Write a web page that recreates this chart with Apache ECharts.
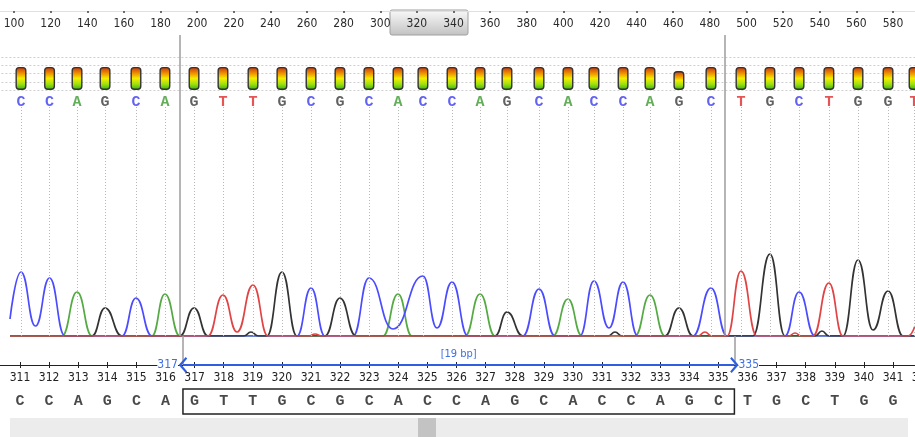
<!DOCTYPE html>
<html>
<head>
<meta charset="utf-8">
<script src="https://cdn.jsdelivr.net/npm/echarts@6/dist/echarts.min.js"></script>
<style>
html, body { margin: 0; padding: 0; background: #fff; }
#chart { width: 915px; height: 437px; }
</style>
</head>
<body>
<div id="chart"></div>
<script>
// base calls over the trace, with their scan positions and quality
const baseCalls = ["C","C","A","G","C","A","G","T","T","G","C","G","C","A","C","C","A","G","C","A","C","C","A","G","C","T","G","C","T","G","G","T"];
const basePos = [103.8, 119.4, 134.4, 149.7, 166.6, 182.4, 198.3, 214.1, 230.5, 246.3, 262.2, 278.0, 293.8, 309.7, 323.3, 339.2,
  354.5, 369.2, 386.7, 402.5, 416.7, 432.6, 447.3, 463.1, 480.6, 497.0, 512.8, 528.7, 545.0, 560.9, 577.3, 591.5];
const baseQual = [28, 28, 28, 28, 28, 28, 28, 28, 28, 28, 28, 28, 28, 28, 28, 28,
  28, 28, 28, 28, 28, 28, 28, 23, 28, 28, 28, 28, 28, 28, 28, 28];

// sequence ruler under the trace
const seqStart = 311;
const seqBases = ["C","C","A","G","C","A","G","T","T","G","C","G","C","A","C","C","A","G","C","A","C","C","A","G","C","T","G","C","T","G","G","T"];

// selection: edges on the ruler (base units) and cursors on the trace (scan units)
const selRange = [316.6, 335.55];
const cursorScan = [190.6, 488.3];

// trace signal per channel: [scan, signal]
const traceA = [[97.8,0],[126.2,0],[134.4,44],[142.6,0],[175.3,0],[182.4,42],[190.6,0],[301.5,0],[309.7,42],[317.3,0],
  [346.3,0],[354.5,42],[362.7,0],[394.3,0],[402.5,37],[410.2,0],[439.1,0],[447.3,41],[455.5,0],[592,0]];
const traceC = [[97.8,17],[103.8,64],[111.7,10],[119.4,58],[127.8,0],[159.0,0],[166.6,38],[175.3,0],[254.5,0],[262.2,48],
  [269.8,0],[285.1,0],[293.8,58],[307.0,7],[323.3,60],[331.0,8],[339.2,54],[347.9,0],[377.9,0],[386.7,47],[395.4,0],
  [409.0,0],[416.7,55],[424.9,8],[432.6,54],[440.7,0],[470.8,0],[480.6,48],[489.4,0],[521.0,0],[528.7,44],[537.4,0],[592,0]];
const traceG = [[97.8,0],[142.6,0],[149.7,28],[158.9,0],[190.6,0],[198.3,28],[205.9,0],[225.5,0],[229.4,4],[233.5,0],
  [238.1,0],[246.3,64],[254.5,0],[269.8,0],[278.0,38],[286.7,0],[362.7,0],[369.2,24],[377.9,0],[424.5,0],[428.2,4],[432.0,0],
  [455.5,0],[463.1,28],[470.8,0],[503.5,0],[512.8,82],[521.0,0],[537.5,0],[541.2,5],[545.0,0],[552.7,0],[560.9,76],
  [569.1,6],[577.3,45],[585.5,0],[592,0]];
const traceT = [[97.8,0],[205.9,0],[214.1,41],[221.8,4],[230.5,51],[238.7,0],[261.0,0],[264.4,2],[268.0,0],[473.5,0],
  [477.3,4],[481.0,0],[489.4,0],[497.0,65],[505.7,0],[523.0,0],[526.5,3],[530.0,0],[536.3,0],[545.0,53],[552.7,0],
  [588.2,0],[592,10]];

const callColor = { A: "#3d9a32", C: "#3b3bf0", G: "#3a3a3a", T: "#e02a2a" };
const traceColor = { A: "#55aa44", C: "#4b4bff", G: "#333333", T: "#e04444" };

const narrow = '"Liberation Sans Narrow", "DejaVu Sans Condensed", sans-serif';
const mono = '"Liberation Mono", "Courier New", monospace';
const chevron = "path://M8 0 L16 7 L14.5 8.5 L8 3 L1.5 8.5 L0 7 Z";

const selFirst = Math.ceil(selRange[0]);
const selLast = Math.floor(selRange[1]);

const scanX = { min: 80, max: 600, interval: 20 };
const baseX = { min: 310, max: 342, interval: 1 };
const hiddenX = (grid, r) => ({ type: "value", gridIndex: grid, show: false, min: r.min, max: r.max });
const hiddenY = (grid, max) => ({ type: "value", gridIndex: grid, show: false, min: 0, max: max });
const scanGrid = (top, height) => ({ left: -22.6, width: 952.2, top: top, height: height, containLabel: false, outerBoundsMode: "none" });
const baseGrid = (top, height) => ({ left: -9.1, width: 931.2, top: top, height: height, containLabel: false, outerBoundsMode: "none" });

function trace(data, color) {
  return {
    type: "line", xAxisIndex: 2, yAxisIndex: 2, data: data,
    smooth: 0.5, smoothMonotone: "x", symbol: "none", silent: true,
    lineStyle: { color: color, width: 1.7 },
  };
}

const chart = echarts.init(document.getElementById("chart"));
chart.setOption({
  animation: false,
  grid: [
    scanGrid(57, 33),   // quality bars + scan ruler
    scanGrid(35, 301),  // cursors
    scanGrid(106, 230), // traces
    baseGrid(336, 29),  // base ruler
    baseGrid(389, 25),  // sequence
  ],
  xAxis: [
    {
      type: "value", gridIndex: 0, position: "top", offset: 46,
      min: scanX.min, max: scanX.max, interval: scanX.interval,
      axisLine: { onZero: false, lineStyle: { color: "#e0e0e0", width: 1 } },
      axisTick: { inside: true, length: 2, lineStyle: { color: "#444", width: 1.5 } },
      axisLabel: { inside: true, margin: 7, color: "#2b2b2b", fontSize: 12, fontFamily: narrow },
      splitLine: { show: false },
    },
    hiddenX(1, scanX),
    hiddenX(2, scanX),
    {
      type: "value", gridIndex: 3, position: "bottom",
      min: baseX.min, max: baseX.max, interval: baseX.interval,
      axisLine: { lineStyle: { color: "#222", width: 1.2 } },
      axisTick: { length: 3, lineStyle: { color: "#222" } },
      axisLabel: { margin: 7, color: "#222", fontSize: 12, fontFamily: narrow, showMinLabel: false },
      splitLine: { show: false },
    },
    {
      type: "value", gridIndex: 3, position: "bottom",
      min: baseX.min, max: baseX.max, interval: baseX.interval,
      axisLine: { show: false },
      axisTick: { inside: true, length: 3, lineStyle: { color: "#222" } },
      axisLabel: { show: false },
      splitLine: { show: false },
    },
    hiddenX(4, baseX),
  ],
  yAxis: [
    {
      type: "value", gridIndex: 0, min: 0, max: 40, interval: 10,
      axisLine: { show: false }, axisTick: { show: false }, axisLabel: { show: false },
      splitLine: { lineStyle: { color: "#cfcfcf", type: [2, 2] } },
    },
    hiddenY(1, 1),
    hiddenY(2, 230),
    hiddenY(3, 1),
    hiddenY(4, 1),
  ],
  graphic: [
    {
      type: "rect", z: -1, shape: { x: 390, y: 10, width: 78, height: 25, r: 2 },
      style: {
        fill: new echarts.graphic.LinearGradient(0, 0, 0, 1, [
          { offset: 0, color: "#fafafa" }, { offset: 1, color: "#c2c2c2" },
        ]),
        stroke: "#a0a0a0", lineWidth: 1,
      },
    },
    { type: "rect", shape: { x: 10, y: 418, width: 898, height: 19 }, style: { fill: "#ececec" } },
    { type: "rect", shape: { x: 418, y: 418, width: 18, height: 19 }, style: { fill: "#c3c3c3" } },
  ],
  series: [
    {
      type: "bar", xAxisIndex: 0, yAxisIndex: 0, barWidth: 11, silent: true,
      data: basePos.map((p, i) => [p, baseQual[i]]),
      itemStyle: {
        borderRadius: 3, borderColor: "#333", borderWidth: 1.4,
        color: new echarts.graphic.LinearGradient(0, 0, 0, 1, [
          { offset: 0, color: "#c8300c" },
          { offset: 0.3, color: "#f09a00" },
          { offset: 0.5, color: "#f2ee00" },
          { offset: 0.75, color: "#9ee010" },
          { offset: 1, color: "#2eb010" },
        ]),
      },
    },
    {
      type: "scatter", xAxisIndex: 0, yAxisIndex: 0, symbolSize: 1, silent: true,
      itemStyle: { color: "rgba(0,0,0,0)" },
      data: basePos.map((p, i) => ({ value: [p, 0], label: { color: callColor[baseCalls[i]] } })),
      label: {
        show: true, position: "bottom", distance: 4,
        formatter: (p) => baseCalls[p.dataIndex],
        fontFamily: mono, fontWeight: "bold", fontSize: 15,
      },
    },
    Object.assign(trace(traceA, traceColor.A), {
      markLine: {
        silent: true, symbol: ["none", "none"], label: { show: false },
        lineStyle: { color: "#b8b8b8", type: [1, 2], width: 1 },
        data: basePos.map((p) => ({ xAxis: p })),
      },
    }),
    trace(traceC, traceColor.C),
    trace(traceG, traceColor.G),
    trace(traceT, traceColor.T),
    {
      type: "scatter", xAxisIndex: 1, yAxisIndex: 1, symbolSize: 0, silent: true,
      data: [[cursorScan[0], 0]],
      markLine: {
        silent: true, symbol: ["none", "none"], label: { show: false },
        lineStyle: { color: "#9c9c9c", width: 1.5, type: "solid" },
        data: cursorScan.map((c) => ({ xAxis: c })),
      },
    },
    {
      // lower cursor segments
      type: "scatter", xAxisIndex: 3, yAxisIndex: 3, symbolSize: 0, silent: true,
      data: [[selRange[0], 0]],
      markLine: {
        silent: true, symbol: ["none", "none"], label: { show: false },
        lineStyle: { color: "#9c9c9c", width: 1.5, type: "solid" },
        data: selRange.map((s) => ({ xAxis: s })),
      },
    },
    {
      // selection arrow
      type: "scatter", xAxisIndex: 3, yAxisIndex: 3, symbolSize: 0, silent: true,
      data: [[selRange[0], 0], [selRange[1], 0]],
      markLine: {
        silent: true, symbol: [chevron, chevron], symbolSize: [16, 8.5],
        lineStyle: { color: "#2f5fe0", width: 2, type: "solid" },
        label: {
          show: true, position: "middle", formatter: "[" + (selLast - selFirst + 1) + " bp]",
          color: "#3e70e6", backgroundColor: "#fff", fontSize: 11, fontFamily: narrow, padding: [0, 2],
        },
        data: [[{ coord: [selRange[0], 0] }, { coord: [selRange[1], 0] }]],
      },
      markPoint: {
        silent: true, symbol: "circle", symbolSize: 0,
        label: { show: true, color: "#3e70e6", fontSize: 12, fontFamily: narrow, backgroundColor: "#fff" },
        data: [
          { coord: [selRange[0], 0], label: { position: "left", distance: 5, formatter: String(selFirst) } },
          { coord: [selRange[1], 0], label: { position: "right", distance: 4, formatter: String(selLast) } },
        ],
      },
    },
    {
      type: "scatter", xAxisIndex: 5, yAxisIndex: 4, symbolSize: 1, silent: true,
      itemStyle: { color: "rgba(0,0,0,0)" },
      data: seqBases.map((b, i) => [seqStart + i, 0.5]),
      label: {
        show: true, position: "inside", formatter: (p) => seqBases[p.dataIndex],
        color: "#1a1a1a", fontSize: 15, fontWeight: "bold", fontFamily: mono,
      },
      markArea: {
        silent: true,
        itemStyle: { color: "rgba(0,0,0,0)", borderColor: "#222", borderWidth: 1.5 },
        data: [[{ xAxis: selRange[0] }, { xAxis: selRange[1] }]],
      },
    },
  ],
});
</script>
</body>
</html>
